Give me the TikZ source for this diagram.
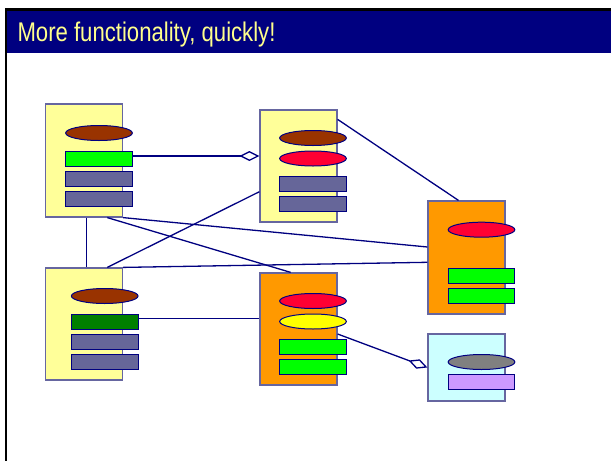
\documentclass[tikz,border=0pt]{standalone}
\usepackage{fontspec}
\setmainfont{Liberation Sans}
\newfontfamily\titlefont[FakeStretch=0.82]{Liberation Sans}
\usetikzlibrary{arrows.meta}
\definecolor{navy}{RGB}{0,0,128}
\definecolor{frameblue}{RGB}{102,102,160}
\definecolor{paleyellow}{RGB}{255,255,153}
\definecolor{titleyellow}{RGB}{255,255,140}
\definecolor{brownish}{RGB}{153,51,0}
\definecolor{brightgreen}{RGB}{0,255,0}
\definecolor{darkgreen}{RGB}{0,128,0}
\definecolor{slate}{RGB}{102,102,153}
\definecolor{crimson}{RGB}{255,0,51}
\definecolor{lemon}{RGB}{255,255,0}
\definecolor{amber}{RGB}{255,153,0}
\definecolor{icecyan}{RGB}{204,255,255}
\definecolor{midgray}{RGB}{128,128,128}
\definecolor{lavender}{RGB}{204,153,255}
\tikzset{
  comp/.style={draw=frameblue, line width=1.2pt, minimum width=77pt, inner sep=0pt},
  part/.style={draw=navy, line width=1pt, minimum width=66.7pt, minimum height=15pt, inner sep=0pt},
  attr/.style={part, ellipse},
  link/.style={draw=navy, line width=1.3pt},
  agg/.style={link, -{Diamond[open, length=20pt, width=10pt, line width=1.3pt]}}
}
\usetikzlibrary{shapes.geometric}
\begin{document}
\begin{tikzpicture}[x=1pt, y=-1pt]
\useasboundingbox (0,0) rectangle (611,461);
% title band and frame
\fill[navy] (7,11) rectangle (611,53);
\fill[black] (5,8) rectangle (611,11);
\fill[black] (5,8) rectangle (7,461);
\node[anchor=base west, inner sep=0pt, text=titleyellow,
      font=\titlefont\fontsize{27}{32}\selectfont] (title) at (17.3,41)
  {More functionality, quickly!};

% components
\node[comp, fill=paleyellow, minimum height=113pt] (A) at (84,160.5) {};
\node[comp, fill=paleyellow, minimum height=112pt] (B) at (298.5,166) {};
\node[comp, fill=paleyellow, minimum height=112pt] (C) at (84,324) {};
\node[comp, fill=amber, minimum height=112pt] (D) at (298.5,329) {};
\node[comp, fill=amber, minimum height=113pt] (E) at (466.5,257.5) {};
\node[comp, fill=icecyan, minimum height=67pt] (F) at (466.5,367.5) {};

% parts of A
\node[attr, fill=brownish] (Ae) at (99,133) {};
\node[part, fill=brightgreen] (Ag) at (99,158.5) {};
\node[part, fill=slate] (As1) at (99,178.5) {};
\node[part, fill=slate] (As2) at (99,199) {};
% parts of B
\node[attr, fill=brownish] (Be) at (313,138) {};
\node[attr, fill=crimson] (Br) at (313,158.5) {};
\node[part, fill=slate] (Bs1) at (313,184) {};
\node[part, fill=slate] (Bs2) at (313,204) {};
% parts of C
\node[attr, fill=brownish] (Ce) at (104.7,296) {};
\node[part, fill=darkgreen] (Cg) at (104.7,321.5) {};
\node[part, fill=slate] (Cs1) at (104.7,342) {};
\node[part, fill=slate] (Cs2) at (104.7,362) {};
% parts of D
\node[attr, fill=crimson] (Dr) at (313,301) {};
\node[attr, fill=lemon] (Dy) at (313,321.5) {};
\node[part, fill=brightgreen] (Dg1) at (313,346.5) {};
\node[part, fill=brightgreen] (Dg2) at (313,367) {};
% parts of E
\node[attr, fill=crimson] (Er) at (481.5,229.7) {};
\node[part, fill=brightgreen] (Eg1) at (481.5,275.7) {};
\node[part, fill=brightgreen] (Eg2) at (481.5,296) {};
% parts of F
\node[attr, fill=midgray] (Fe) at (481.5,362) {};
\node[part, fill=lavender] (Fl) at (481.5,382.3) {};

% connectors
\draw[agg] ([yshift=2.5pt]Ag.east) -- ([yshift=2.5pt]Ag.east -| B.west);
\draw[link] ([yshift=-10pt]B.north east) -- ([xshift=-8pt]E.north);
\draw[link] ([xshift=2.7pt]A.south) -- ([xshift=2.7pt]C.north);
\draw[link] ([xshift=23.3pt]A.south) -- ([xshift=-7.8pt]D.north);
\draw[link] (A.south east) -- ([yshift=10.5pt]E.west);
\draw[link] ([xshift=23.3pt]C.north) -- ([yshift=-25.7pt]B.west);
\draw[link] (C.north east) -- ([yshift=-4.8pt]E.west);
\draw[link] ([yshift=3pt]Cg.east) -- ([yshift=3pt]Cg.east -| D.west);
\draw[agg] ([yshift=-5pt]D.east) -- (F.west);
\end{tikzpicture}
\end{document}
